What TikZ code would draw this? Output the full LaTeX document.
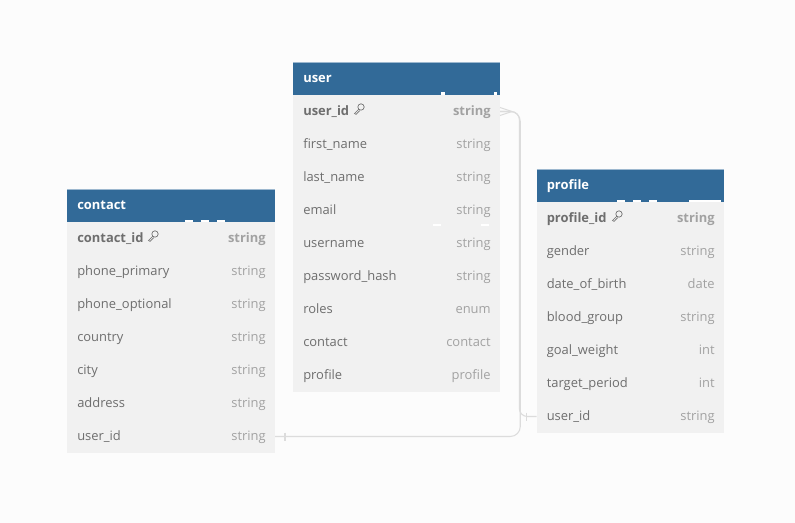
\documentclass[tikz,border=0pt]{standalone}
\usepackage{fontspec}
\setmainfont{Open Sans}
\definecolor{headblue}{HTML}{326A98}
\definecolor{headedge}{HTML}{9DB8CF}
\definecolor{rowgray}{HTML}{F1F1F1}
\definecolor{namegray}{HTML}{6E6E6E}
\definecolor{typegray}{HTML}{A2A2A2}
\definecolor{linkgray}{HTML}{DCDCDC}
\definecolor{pagegray}{HTML}{FCFCFC}
\tikzset{
	headbox/.style={anchor=north west, fill=headblue, text=white, font=\fontsize{9.7}{11}\selectfont\bfseries, align=left, outer sep=0pt, inner xsep=7.7pt, inner ysep=0pt, minimum height=24.75pt, text height=8.5pt, text depth=2pt},
	rowbox/.style={anchor=north west, fill=rowgray, text=namegray, font=\fontsize{9.7}{11}\selectfont, align=left, outer sep=0pt, inner xsep=7.7pt, inner ysep=0pt, minimum height=24.75pt, text height=8.5pt, text depth=2pt},
	typelabel/.style={anchor=east, text=typegray, font=\fontsize{9.7}{11}\selectfont, outer sep=0pt, inner xsep=7pt, inner ysep=0pt, text height=8.5pt, text depth=2pt},
	link/.style={draw=linkgray, line width=0.8pt},
	gap/.style={fill=white}
}
\newcommand{\keyicon}[1]{
	\draw[namegray, line width=0.5pt] ([shift={(2.5,-3)}]#1) circle (2.4pt);
	\draw[namegray, line width=0.5pt] ([shift={(0.3,-0.8)}]#1) -- ([shift={(-4,3.5)}]#1) -- ([shift={(-2.4,4.4)}]#1) -- ([shift={(1.2,0.6)}]#1);
}
\newcommand{\erdtable}[5]{
	\node[headbox, text width=#4*0.75pt-15.4pt] (#1) at (#2,#3) {#1};
	\draw[headedge, line width=0.5pt] (#1.north west) -- (#1.north east);
	\foreach \fname/\ftype [count=\i, remember=\i as \prev (initially 0)] in {#5} {
		\ifnum\i=1
			\node[rowbox, font=\fontsize{9.7}{11}\selectfont\bfseries, text width=#4*0.75pt-15.4pt] (#11) at (#1.south west) {\fname};
			\node[typelabel, font=\fontsize{9.7}{11}\selectfont\bfseries] at (#11.east) {\ftype};
		\else
			\node[rowbox, text width=#4*0.75pt-15.4pt] (#1\i) at (#1\prev.south west) {\fname};
			\node[typelabel] at (#1\i.east) {\ftype};
		\fi
	}
}
\begin{document}
\begin{tikzpicture}[x=0.75pt, y=-0.75pt]
	\fill[pagegray] (0,0) rectangle (795,523);
	\useasboundingbox (0,0) rectangle (795,523);
	\erdtable{user}{293}{62}{207}{user\_id/string, first\_name/string, last\_name/string, email/string, username/string, password\_hash/string, roles/enum, contact/contact, profile/profile}
	\erdtable{contact}{67}{189}{208}{contact\_id/string, phone\_primary/string, phone\_optional/string, country/string, city/string, address/string, user\_id/string}
	\erdtable{profile}{536.5}{169}{187.5}{profile\_id/string, gender/string, date\_of\_birth/date, blood\_group/string, goal\_weight/int, target\_period/int, user\_id/string}
	\keyicon{358.5,110}
	\keyicon{152.5,237}
	\keyicon{616.5,217}
	\coordinate (crow) at ([xshift=9pt]user1.east);
	\draw[link] ([yshift=3pt]user1.east) -- (crow) -- ([yshift=-3pt]user1.east);
	\draw[link, rounded corners=6pt] (user1.east) -- ([xshift=14.5pt]user1.east) |- (profile7.west);
	\draw[link, rounded corners=7.5pt] (user1.east) -- ([xshift=15.2pt]user1.east) |- (contact7.east);
	\draw[link] ([xshift=-7.5pt, yshift=3pt]profile7.west) -- ([xshift=-7.5pt, yshift=-3pt]profile7.west);
	\draw[link] ([xshift=7.5pt, yshift=3pt]contact7.east) -- ([xshift=7.5pt, yshift=-3pt]contact7.east);
	\fill[gap] (441,92.5) rectangle (445,95);
	\fill[gap] (493.5,92.5) rectangle (497,95);
	\fill[gap] (433,224.5) rectangle (441,226.5);
	\fill[gap] (481,224.5) rectangle (489,226.5);
	\foreach \gapx in {185,201,217}
		\fill[gap] (\gapx,219.7) rectangle (\gapx+8,222);
	\foreach \gapx in {617,633,649}
		\fill[gap] (\gapx,199.7) rectangle (\gapx+8,202);
	\fill[gap] (689,199.7) rectangle (721,202);
\end{tikzpicture}
\end{document}
